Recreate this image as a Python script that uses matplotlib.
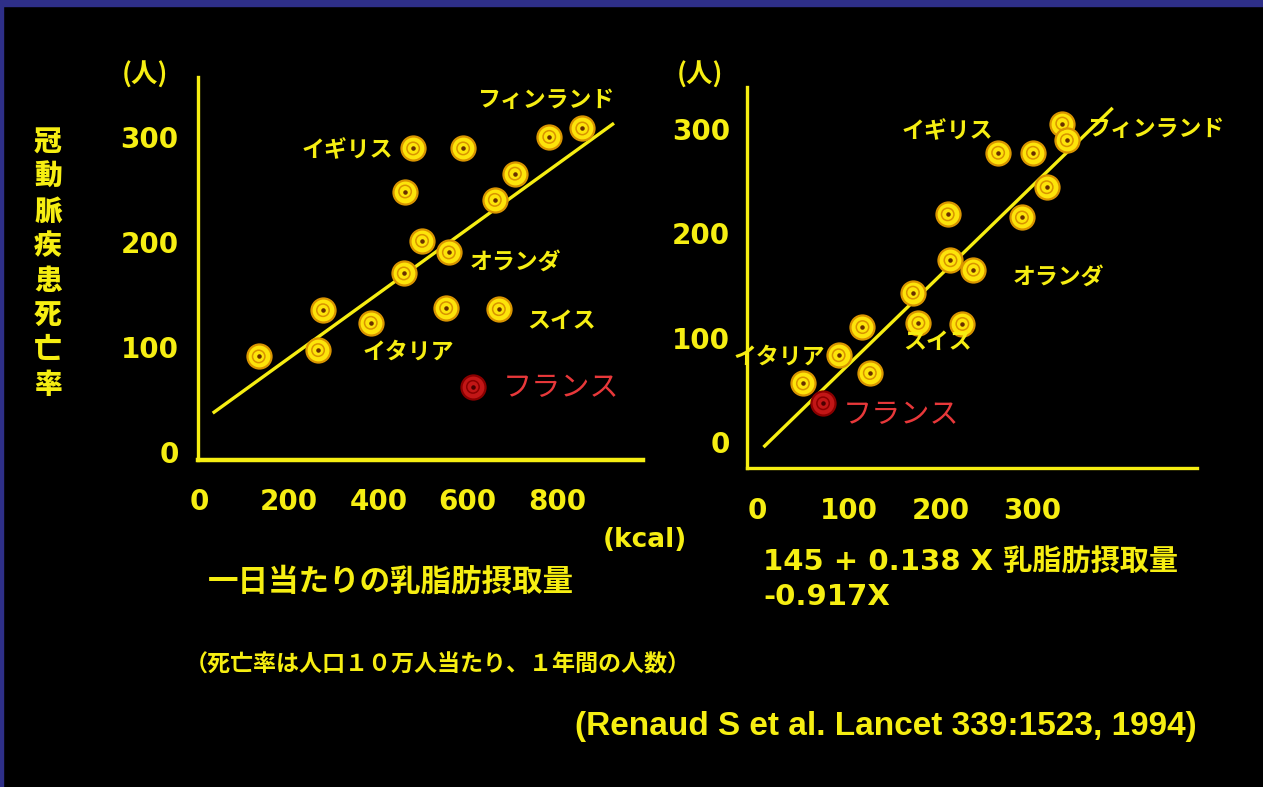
import matplotlib
matplotlib.use("Agg")
import matplotlib.pyplot as plt
from matplotlib.patches import Rectangle

plt.rcParams["font.family"] = ["Noto Sans CJK JP", "DejaVu Sans"]

W, H = 1263, 787
YELLOW = "#f6ee12"
RED_TXT = "#e8383a"
NUM_FONT = ["DejaVu Sans", "Noto Sans CJK JP"]

# left panel: daily milk-fat intake (kcal) vs CHD deaths
fat_kcal = [132, 265, 276, 383, 457, 498, 558, 460, 478, 590, 552, 670, 661, 706, 783, 857]
chd_left = [91, 97, 135, 123, 170, 201, 190, 248, 289, 289, 137, 136, 240, 265, 300, 308]
france_left = (612, 62)
fit_left_x = [29, 928]
fit_left_y = [37, 313]

# right panel: predicted value (x) vs CHD deaths
pred_x = [50, 89, 123, 115, 170, 176, 224, 211, 236, 208, 289, 316, 263, 301, 333, 338]
chd_right = [56, 83, 66, 110, 143, 114, 113, 174, 165, 218, 215, 244, 277, 277, 305, 289]
france_right = (72, 37)
fit_right_x = [7, 388]
fit_right_y = [-5, 320]

left_xticks = [0, 200, 400, 600, 800]
right_xticks = [0, 100, 200, 300]
yticks = [0, 100, 200, 300]

left_labels = [
    ("フィンランド", 621, 335, "left"),
    ("イギリス", 433, 287, "right"),
    ("オランダ", 605, 181, "left"),
    ("スイス", 733, 124, "left"),
    ("イタリア", 365, 95, "left"),
]
right_labels = [
    ("イギリス", 257, 297, "right"),
    ("フィンランド", 360, 299, "left"),
    ("オランダ", 279, 158, "left"),
    ("スイス", 159, 95, "left"),
    ("イタリア", -26, 81, "left"),
]
left_france_label = (679, 61)
right_france_label = (94, 26)

ylabel_chars = "冠動脈疾患死亡率"


def px_axes(fig, x0, y0, x1, y1):
    # axes box given in pixel coords (top-left origin)
    return fig.add_axes([x0 / W, 1 - y1 / H, (x1 - x0) / W, (y1 - y0) / H])


def style_axes(ax, xlim, ylim, xticks, xpad, ypad, xaxis_lw):
    ax.set_facecolor("black")
    ax.set_xlim(*xlim)
    ax.set_ylim(*ylim)
    for side in ("top", "right"):
        ax.spines[side].set_visible(False)
    for side in ("left", "bottom"):
        ax.spines[side].set_color(YELLOW)
    ax.spines["left"].set_linewidth(2.4)
    ax.spines["bottom"].set_linewidth(xaxis_lw)
    ax.set_xticks(xticks)
    ax.set_yticks(yticks)
    ax.tick_params(length=0, colors=YELLOW, labelsize=20)
    ax.tick_params(axis="x", pad=xpad)
    ax.tick_params(axis="y", pad=ypad)
    for lab in ax.get_xticklabels() + ax.get_yticklabels():
        lab.set_fontweight("bold")
        lab.set_family(NUM_FONT)


def draw_points(ax, xs, ys, fill, ring, dot):
    ax.scatter(xs, ys, s=300, facecolor=fill, edgecolor=ring, linewidth=1.6,
               zorder=4, clip_on=False)
    ax.scatter(xs, ys, s=80, facecolor="none", edgecolor=ring, linewidth=1.1,
               zorder=5, clip_on=False)
    ax.scatter(xs, ys, s=5, color=dot, zorder=6, clip_on=False)


def draw_panel(ax, xs, ys, france, fit_x, fit_y, labels, france_label):
    ax.plot(fit_x, fit_y, color=YELLOW, linewidth=2.4, zorder=3,
            solid_capstyle="butt", clip_on=False)
    draw_points(ax, xs, ys, "#fde40a", "#d99400", "#6a3000")
    draw_points(ax, [france[0]], [france[1]], "#c21616", "#8a0000", "#4a0000")
    for text, x, y, ha in labels:
        ax.text(x, y, text, color=YELLOW, fontsize=16.5, fontweight="bold",
                ha=ha, va="center", zorder=7, clip_on=False)
    ax.text(france_label[0], france_label[1], "フランス", color=RED_TXT,
            fontsize=21, ha="left", va="center", zorder=7, clip_on=False)


fig = plt.figure(figsize=(W / 100, H / 100), dpi=100, facecolor="black")

# slide frame
fig.patches.append(Rectangle((0, 1 - 6 / H), 1, 6 / H, transform=fig.transFigure,
                             color="#2e2f88", zorder=0))
fig.patches.append(Rectangle((0, 0), 3 / W, 1, transform=fig.transFigure,
                             color="#2e2f88", zorder=0))

ax1 = px_axes(fig, 198, 77, 643, 460)
style_axes(ax1, (-4, 993), (-7.6, 357), left_xticks, 20, 14, 3.2)
draw_panel(ax1, fat_kcal, chd_left, france_left, fit_left_x, fit_left_y,
           left_labels, left_france_label)

ax2 = px_axes(fig, 747, 87, 1197, 468)
style_axes(ax2, (-11, 480), (-25, 340), right_xticks, 21, 12, 2.4)
draw_panel(ax2, pred_x, chd_right, france_right, fit_right_x, fit_right_y,
           right_labels, right_france_label)

# unit labels
fig.text(145 / W, 1 - 75 / H, "(人)", color=YELLOW, fontsize=19,
         fontweight="bold", ha="center", va="center")
fig.text(700 / W, 1 - 75 / H, "(人)", color=YELLOW, fontsize=19,
         fontweight="bold", ha="center", va="center")
fig.text(645 / W, 1 - 540 / H, "(kcal)", color=YELLOW, fontsize=19,
         fontweight="bold", ha="center", va="center", family=NUM_FONT)

# vertical y label, one character per row
for i, ch in enumerate(ylabel_chars):
    fig.text(48 / W, 1 - (142 + i * 34.7) / H, ch, color=YELLOW, fontsize=20,
             fontweight="heavy", ha="center", va="center")

fig.text(208 / W, 1 - 582 / H, "一日当たりの乳脂肪摂取量", color=YELLOW,
         fontsize=22, fontweight="bold", ha="left", va="center")
fig.text(763 / W, 1 - 563 / H, "145 + 0.138 X 乳脂肪摂取量", color=YELLOW,
         fontsize=21, fontweight="bold", ha="left", va="center", family=NUM_FONT)
fig.text(763 / W, 1 - 597 / H, "-0.917X", color=YELLOW,
         fontsize=21, fontweight="bold", ha="left", va="center", family=NUM_FONT)

fig.text(185 / W, 1 - 665 / H, "（死亡率は人口１０万人当たり、１年間の人数）",
         color=YELLOW, fontsize=16.6, fontweight="bold", ha="left", va="center")
fig.text(1197 / W, 1 - 727 / H, "(Renaud S et al. Lancet 339:1523, 1994)",
         color=YELLOW, fontsize=24, fontweight="bold", ha="right", va="center",
         family=["Liberation Sans Narrow", "Liberation Sans", "DejaVu Sans"])

fig.savefig("out.png", dpi=100, facecolor="black")
